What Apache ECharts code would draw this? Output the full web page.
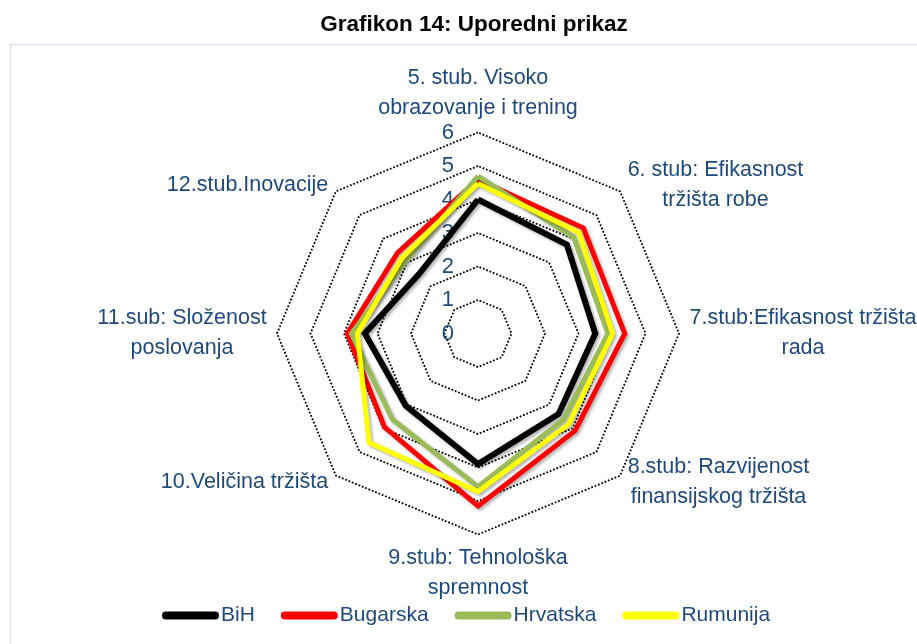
<!DOCTYPE html>
<html>
<head>
<meta charset="utf-8">
<title>Grafikon 14: Uporedni prikaz</title>
<script src="https://cdn.jsdelivr.net/npm/echarts@6/dist/echarts.min.js"></script>
<style>
  html, body { margin: 0; padding: 0; background: #fff; }
  #radarChart { width: 917px; height: 644px; }
</style>
</head>
<body>
<div id="radarChart"></div>
<script>
// stubovi, clockwise from the top
const pillars = [
  '5. stub. Visoko\nobrazovanje i trening',
  '6. stub: Efikasnost\ntržišta robe',
  '7.stub:Efikasnost tržišta\nrada',
  '8.stub: Razvijenost\nfinansijskog tržišta',
  '9.stub: Tehnološka\nspremnost',
  '10.Veličina tržišta',
  '11.sub: Složenost\nposlovanja',
  '12.stub.Inovacije'
]
const countries = ['BiH', 'Bugarska', 'Hrvatska', 'Rumunija']
const bih = [4.0, 3.75, 3.5, 3.4, 3.9, 3.05, 3.38, 2.5]
const bugarska = [4.6, 4.45, 4.38, 4.1, 5.15, 3.95, 3.9, 3.4]
const hrvatska = [4.7, 4.05, 3.88, 3.62, 4.57, 3.62, 3.78, 3.05]
const rumunija = [4.48, 4.26, 4.02, 3.83, 4.72, 4.6, 3.6, 3.2]
const scaleMax = 6

const colors = ['#000000', '#FF0000', '#9BBB59', '#FFFF00']
const textColor = '#1F497D'
const font = '"Liberation Sans", Arial, sans-serif'
const fontSize = 21.5

// echarts puts indicators counter-clockwise, the picture goes clockwise
const order = [0, 7, 6, 5, 4, 3, 2, 1]
const reorder = arr => order.map(i => arr[i])

// width of the longest line, so every line can be centered inside its block
const ctx = document.createElement('canvas').getContext('2d')
ctx.font = fontSize + 'px ' + font
const rich = {}
pillars.forEach((name, i) => {
  let w = 0
  name.split('\n').forEach(line => { w = Math.max(w, ctx.measureText(line).width) })
  rich['n' + i] = {
    width: Math.ceil(w) + 2,
    align: 'center',
    lineHeight: 30,
    fontSize: fontSize,
    fontFamily: font,
    color: textColor
  }
})

const indicator = reorder(pillars).map((name, k) => {
  let item = { name: name, min: 0, max: scaleMax }
  if (k === 0) {
    item.axisLabel = { show: true }
  }
  return item
})

const data = [bih, bugarska, hrvatska, rumunija]
const series = countries.map((name, i) => ({
  name: name,
  type: 'radar',
  symbol: 'none',
  z: 2 + i,
  lineStyle: {
    color: colors[i],
    width: i === 0 ? 6 : 5,
    join: 'miter',
    shadowColor: 'rgba(0,0,0,0.3)',
    shadowBlur: 3,
    shadowOffsetX: 2,
    shadowOffsetY: 2
  },
  itemStyle: { color: colors[i] },
  data: [{ name: name, value: reorder(data[i]) }]
}))

const myChart = echarts.init(document.getElementById('radarChart'))
let option = {
  animation: false,
  color: colors,
  graphic: [
    {
      type: 'rect',
      shape: { x: 10.5, y: 44.5, width: 930, height: 640 },
      style: { fill: 'none', stroke: '#D9E2EE', lineWidth: 1.5 },
      silent: true
    },
    {
      type: 'text',
      x: 474,
      y: 25,
      style: {
        text: 'Grafikon 14: Uporedni prikaz',
        fill: '#000',
        font: 'bold 22.5px ' + font,
        textAlign: 'center',
        textVerticalAlign: 'middle'
      }
    }
  ],
  legend: {
    left: 157,
    top: 600,
    itemWidth: 57,
    itemHeight: 8,
    itemGap: 26,
    icon: 'path://M4,0 L53,0 A4,4 0 0 1 53,8 L4,8 A4,4 0 0 1 4,0 Z',
    textStyle: {
      color: textColor,
      fontSize: 21,
      fontFamily: font,
      padding: [0, 0, 0, -3]
    },
    data: countries
  },
  radar: {
    center: [478, 333.5],
    radius: 201,
    shape: 'polygon',
    splitNumber: 6,
    nameGap: 9,
    axisName: {
      color: textColor,
      fontSize: fontSize,
      fontFamily: font,
      formatter: function (value) {
        let i = pillars.indexOf(value)
        return value.split('\n').map(line => '{n' + i + '|' + line + '}').join('\n')
      },
      rich: rich
    },
    axisLine: { show: false },
    axisTick: { show: false },
    axisLabel: {
      show: false,
      color: textColor,
      fontSize: 22,
      fontFamily: font,
      margin: 24
    },
    splitArea: { show: false },
    splitLine: {
      lineStyle: {
        color: '#000',
        width: 1.8,
        type: [1.8, 1.8]
      }
    },
    indicator: indicator
  },
  series: series
}
myChart.setOption(option)
</script>
</body>
</html>
